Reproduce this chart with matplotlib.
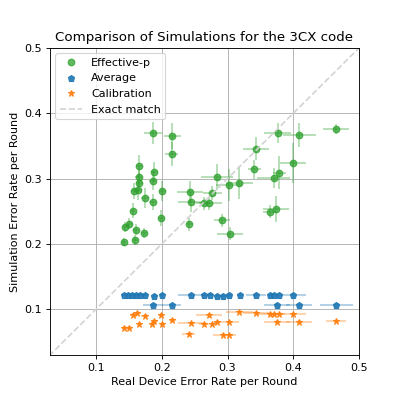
import numpy as np
import matplotlib
matplotlib.use('Agg')
import matplotlib.pyplot as plt

# Effective-p simulation results (real rate, sim rate, errors)
eff_x = [0.187, 0.216, 0.215, 0.166, 0.189, 0.165, 0.186, 0.166, 0.201, 0.158,
         0.164, 0.243, 0.175, 0.186, 0.244, 0.265, 0.156, 0.199, 0.242, 0.151,
         0.144, 0.161, 0.173, 0.160, 0.142, 0.465, 0.376, 0.409, 0.343, 0.400,
         0.341, 0.379, 0.370, 0.284, 0.318, 0.302, 0.277, 0.272, 0.374, 0.364,
         0.292, 0.304]
eff_y = [0.370, 0.365, 0.338, 0.319, 0.310, 0.302, 0.297, 0.294, 0.281, 0.281,
         0.282, 0.279, 0.270, 0.264, 0.264, 0.262, 0.251, 0.240, 0.230, 0.231,
         0.226, 0.222, 0.217, 0.206, 0.203, 0.376, 0.370, 0.367, 0.346, 0.324,
         0.314, 0.309, 0.301, 0.303, 0.294, 0.290, 0.278, 0.262, 0.253, 0.249,
         0.236, 0.216]
eff_xerr = [0.014, 0.013, 0.010, 0.005, 0.006, 0.005, 0.005, 0.005, 0.005, 0.005,
            0.006, 0.020, 0.006, 0.006, 0.020, 0.008, 0.004, 0.004, 0.004, 0.004,
            0.004, 0.004, 0.005, 0.004, 0.004, 0.020, 0.020, 0.025, 0.020, 0.020,
            0.010, 0.010, 0.025, 0.025, 0.020, 0.020, 0.015, 0.020, 0.020, 0.010,
            0.012, 0.020]
eff_yerr = [0.017, 0.020, 0.018, 0.017, 0.015, 0.015, 0.015, 0.015, 0.015, 0.012,
            0.015, 0.017, 0.015, 0.012, 0.015, 0.010, 0.012, 0.012, 0.010, 0.008,
            0.008, 0.008, 0.008, 0.008, 0.006, 0.008, 0.015, 0.018, 0.018, 0.030,
            0.015, 0.025, 0.015, 0.020, 0.025, 0.025, 0.010, 0.010, 0.020, 0.010,
            0.010, 0.010]

# Average simulation results
avg_x = [0.143, 0.148, 0.155, 0.161, 0.167, 0.174, 0.188, 0.201, 0.244, 0.264,
         0.274, 0.284, 0.293, 0.303, 0.319, 0.343, 0.365, 0.371, 0.378, 0.400,
         0.187, 0.215, 0.375, 0.409, 0.465]
avg_y = [0.122, 0.122, 0.122, 0.122, 0.122, 0.122, 0.121, 0.122, 0.122, 0.122,
         0.122, 0.121, 0.121, 0.122, 0.122, 0.122, 0.122, 0.122, 0.122, 0.122,
         0.106, 0.106, 0.106, 0.106, 0.106]
avg_xerr = [0.004, 0.004, 0.004, 0.004, 0.004, 0.004, 0.005, 0.004, 0.020, 0.004,
            0.004, 0.004, 0.004, 0.004, 0.005, 0.015, 0.004, 0.004, 0.004, 0.020,
            0.015, 0.015, 0.020, 0.020, 0.025]
avg_yerr = [0.002] * len(avg_x)

# Calibration simulation results
cal_x = [0.143, 0.151, 0.157, 0.163, 0.166, 0.174, 0.185, 0.189, 0.199, 0.201,
         0.216, 0.241, 0.244, 0.264, 0.272, 0.277, 0.284, 0.293, 0.302, 0.303,
         0.318, 0.343, 0.365, 0.371, 0.378, 0.400, 0.375, 0.409, 0.465]
cal_y = [0.072, 0.072, 0.092, 0.094, 0.077, 0.090, 0.077, 0.082, 0.091, 0.077,
         0.083, 0.062, 0.079, 0.077, 0.092, 0.077, 0.080, 0.061, 0.080, 0.061,
         0.096, 0.094, 0.093, 0.093, 0.093, 0.093, 0.081, 0.081, 0.082]
cal_xerr = [0.004, 0.004, 0.005, 0.005, 0.004, 0.005, 0.005, 0.005, 0.005, 0.004,
            0.005, 0.010, 0.020, 0.008, 0.020, 0.004, 0.004, 0.015, 0.015, 0.010,
            0.020, 0.020, 0.020, 0.010, 0.010, 0.020, 0.020, 0.020, 0.015]
cal_yerr = [0.002] * len(cal_x)

fig, ax = plt.subplots(figsize=(399 / 80, 399 / 80), dpi=80)

ax.errorbar(eff_x, eff_y, xerr=eff_xerr, yerr=eff_yerr, fmt='none',
            ecolor='tab:green', alpha=0.4)
ax.plot(eff_x, eff_y, 'o', color='tab:green', alpha=0.75, label='Effective-p')

ax.errorbar(avg_x, avg_y, xerr=avg_xerr, yerr=avg_yerr, fmt='none',
            ecolor='tab:blue', alpha=0.4)
ax.plot(avg_x, avg_y, 'p', color='tab:blue', alpha=0.9, label='Average')

ax.errorbar(cal_x, cal_y, xerr=cal_xerr, yerr=cal_yerr, fmt='none',
            ecolor='tab:orange', alpha=0.4)
ax.plot(cal_x, cal_y, '*', color='tab:orange', alpha=0.9, label='Calibration')

ax.plot([0, 0.5], [0, 0.5], '--', color='lightgray', label='Exact match')

ax.set_xlim(0.03, 0.5)
ax.set_ylim(0.03, 0.5)
ax.set_xticks([0.1, 0.2, 0.3, 0.4, 0.5])
ax.set_yticks([0.1, 0.2, 0.3, 0.4, 0.5])
ax.grid()
ax.set_xlabel('Real Device Error Rate per Round')
ax.set_ylabel('Simulation Error Rate per Round')
ax.set_title('Comparison of Simulations for the 3CX code')
ax.legend(loc='upper left')

plt.savefig('out.png', dpi=80)
